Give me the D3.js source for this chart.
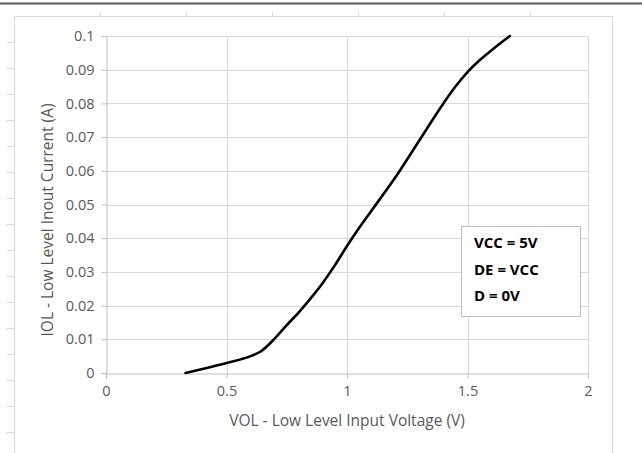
<!DOCTYPE html>
<html><head><meta charset="utf-8">
<script src="https://cdn.jsdelivr.net/npm/d3@7"></script>
<style>
html,body{margin:0;padding:0;background:#fff;}
svg{display:block;}
.tk text{font-family:'Open Sans',sans-serif !important;font-size:14.5px !important;fill:#595959;}
</style></head>
<body>
<svg id="chart" width="642" height="453"></svg>
<script>
// Data
const voltage = [0.33, 0.40, 0.50, 0.60, 0.64, 0.70, 0.75, 0.80, 0.85, 0.90, 0.95, 1.00, 1.05, 1.10, 1.20, 1.30, 1.40, 1.45, 1.50, 1.55, 1.60, 1.676];
const current = [0.0, 0.0012, 0.0030, 0.0050, 0.0063, 0.0102, 0.0142, 0.0180, 0.0222, 0.0268, 0.0320, 0.0377, 0.0430, 0.0480, 0.0580, 0.0690, 0.0800, 0.0850, 0.0893, 0.0928, 0.0958, 0.1000];
const xTicks = [0, 0.5, 1, 1.5, 2];
const yTicks = [0, 0.01, 0.02, 0.03, 0.04, 0.05, 0.06, 0.07, 0.08, 0.09, 0.1];
const legendLines = ["VCC = 5V", "DE = VCC", "D = 0V"];
const xTitle = "VOL - Low Level Input Voltage (V)";
const yTitle = "IOL - Low Level Inout Current (A)";

const svg = d3.select("#chart");
const font = "'Open Sans', sans-serif";

// page decoration (sheet edge)
svg.append("line").attr("x1",0).attr("x2",642).attr("y1",3.5).attr("y2",3.5).attr("stroke","#5a5a5a").attr("stroke-width",2);
svg.append("path").attr("d","M14.5,453 V16.5 H612.5 V453").attr("fill","none").attr("stroke","#d9d9d9").attr("stroke-width",1);
d3.range(6).forEach(i=>{ const xx=100.5+86*i; svg.append("line").attr("x1",xx).attr("x2",xx).attr("y1",12).attr("y2",16.5).attr("stroke","#d9d9d9"); });
d3.range(16).forEach(i=>{ const yy=42.5+26*i; svg.append("line").attr("x1",7).attr("x2",14.5).attr("y1",yy).attr("y2",yy).attr("stroke","#d9d9d9"); });

const x = d3.scaleLinear().domain([0,2]).range([106,588]);
const y = d3.scaleLinear().domain([0,0.1]).range([373,36]);

// gridlines
const g = svg.append("g");
g.selectAll(".hg").data(yTicks.slice(1)).join("line")
  .attr("x1",x(0)).attr("x2",x(2)).attr("y1",d=>Math.round(y(d))+0.5).attr("y2",d=>Math.round(y(d))+0.5)
  .attr("stroke","#d9d9d9");
g.selectAll(".vg").data(xTicks.slice(1)).join("line")
  .attr("x1",d=>Math.round(x(d))+0.5).attr("x2",d=>Math.round(x(d))+0.5).attr("y1",y(0.1)).attr("y2",y(0))
  .attr("stroke","#d9d9d9");

// axes
const xAxis = d3.axisBottom(x).tickValues(xTicks).tickSize(5).tickPadding(7).tickFormat(d3.format("~g"));
const yAxis = d3.axisLeft(y).tickValues(yTicks).tickSize(5).tickPadding(7).tickFormat(d=>d===0?"0":d3.format("~g")(d));
const gx = svg.append("g").attr("class","tk").attr("transform",`translate(0,${Math.round(y(0))+0.5})`).call(xAxis);
const gy = svg.append("g").attr("class","tk").attr("transform",`translate(${Math.round(x(0))+0.5},0)`).call(yAxis);
[gx,gy].forEach(a=>{
  a.attr("font-size",null).attr("font-family",null);
  a.select(".domain").attr("stroke","#bfbfbf");
  a.selectAll(".tick line").attr("stroke","#bfbfbf");
  a.selectAll("text").attr("fill","#595959");
});

// curve
const line = d3.line().x((d,i)=>x(voltage[i])).y((d,i)=>y(current[i])).curve(d3.curveMonotoneX);
svg.append("path").datum(voltage).attr("d",line).attr("fill","none").attr("stroke","#000").attr("stroke-width",2.6).attr("stroke-linecap","round");

// axis titles
svg.append("text").attr("x",347).attr("y",426).attr("text-anchor","middle").attr("fill","#595959")
  .style("font-family",font).style("font-size","15.5px").text(xTitle);
svg.append("text").attr("transform","translate(53,220) rotate(-90)").attr("text-anchor","middle").attr("fill","#595959")
  .style("font-family",font).style("font-size","15.5px").text(yTitle);

// annotation box
svg.append("rect").attr("x",461.5).attr("y",226.5).attr("width",119).attr("height",90).attr("fill","#fff").attr("stroke","#bfbfbf");
svg.selectAll(".lg").data(legendLines).join("text").attr("x",474).attr("y",(d,i)=>248+i*26.5)
  .attr("fill","#000").style("font-family",font).style("font-weight","bold").style("font-size","15px").text(d=>d);
</script>
</body></html>
